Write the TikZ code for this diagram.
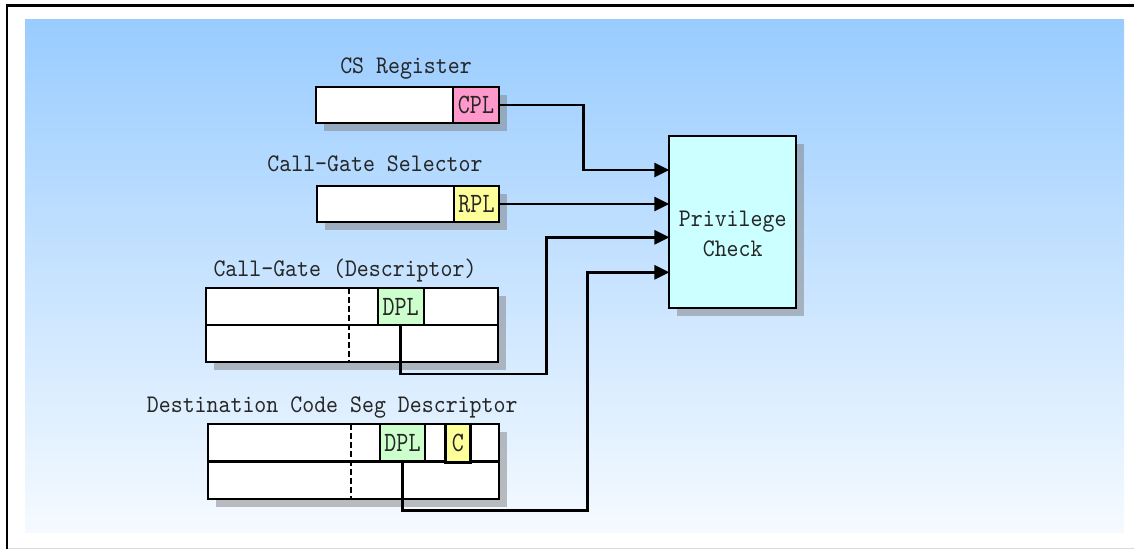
\documentclass[tikz,border=0pt]{standalone}
\usepackage{fontspec}
\usepackage{tikz}
\usetikzlibrary{arrows.meta,positioning,calc,shadows}
\definecolor{bgtop}{HTML}{99CCFF}
\definecolor{bgbot}{HTML}{F5FAFF}
\definecolor{cplpink}{HTML}{FF99CC}
\definecolor{bityellow}{HTML}{FFFF99}
\definecolor{dplgreen}{HTML}{CCFFCC}
\definecolor{chkcyan}{HTML}{CCFFFF}
\newfontfamily\regtt[FakeStretch=0.9]{lmmono10-regular.otf}
\newfontfamily\fieldtt[FakeStretch=0.82]{lmmono10-regular.otf}
\newcommand{\regfont}{\regtt\fontsize{25.3}{29.7}\selectfont}
\newcommand{\fieldfont}{\fieldtt\fontsize{28}{30}\selectfont}

\begin{document}
\begin{tikzpicture}[x=1pt, y=-1pt,
    reg/.style={draw=black, line width=2.2pt, fill=white, inner sep=0pt, outer sep=0pt, drop shadow={shadow xshift=8pt, shadow yshift=-8pt, fill=gray, opacity=.5}},
    field/.style={draw=black, line width=2.2pt, inner sep=0pt, outer sep=0pt, font=\fieldfont, text=black!85},
    lbl/.style={font=\regfont, text=black!85, inner sep=0pt, anchor=base},
    link/.style={-{Triangle[length=15pt,width=14pt]}, line width=2.8pt},
    sep/.style={line width=2.2pt},
    cut/.style={line width=2pt, dash pattern=on 6pt off 3pt}
]
\useasboundingbox (0,0) rectangle (1134,549);
\shade[top color=bgtop, bottom color=bgbot] (25,19) rectangle (1124,532);
\draw[line width=2.5pt] (7,549) -- (7,5.5) -- (1134,5.5);
\draw[black!15, line width=1pt] (8,548) -- (1134,548);

\node[reg, minimum width=183pt, minimum height=36pt] (csreg) at (407.5,105) {};
\node[field, fill=cplpink, minimum width=46pt, minimum height=36pt, anchor=east] (cpl) at (csreg.east) {CPL};
\node[lbl] (cslbl) at (406,73) {CS Register};

\node[reg, minimum width=182pt, minimum height=36pt] (selreg) at (408,204) {};
\node[field, fill=bityellow, minimum width=45pt, minimum height=36pt, anchor=east] (rpl) at (selreg.east) {RPL};
\node[lbl] (sellbl) at (375,171.7) {Call-Gate Selector};

\node[reg, minimum width=292pt, minimum height=74pt] (gate) at (352,325) {};
\draw[sep] (gate.west) -- (gate.east);
\draw[cut] ($(gate.north west)+(143,0)$) -- ($(gate.south west)+(143,0)$);
\node[field, fill=dplgreen, minimum width=46pt, minimum height=37pt, anchor=north west] (gdpl) at ($(gate.north west)+(171.7,0)$) {DPL};
\node[lbl] (gatelbl) at (345,276) {Call-Gate (Descriptor)};

\node[reg, minimum width=291pt, minimum height=75pt] (dest) at (353.5,461.5) {};
\draw[sep] (dest.west) -- (dest.east);
\draw[cut] ($(dest.north west)+(142.5,0)$) -- ($(dest.south west)+(142.5,0)$);
\node[field, fill=dplgreen, minimum width=45pt, minimum height=37.5pt, anchor=north west] (ddpl) at ($(dest.north west)+(172,0)$) {DPL};
\node[field, fill=bityellow, minimum width=25pt, minimum height=38.5pt, anchor=north west] (cbit) at ($(dest.north west)+(237.5,0)$) {C};
\node[lbl] (destlbl) at (332.2,412.3) {Destination Code Seg Descriptor};

\node[reg, fill=chkcyan, minimum width=126.7pt, minimum height=172pt] (chk) at (732.7,221.7) {};
\node[lbl, anchor=center, align=center] (chktxt) at ($(chk.center)+(0,12)$) {Privilege\\Check};

\coordinate (in1) at ($(chk.north west)+(0,34.3)$);
\coordinate (in2) at (chk.west |- rpl.east);
\coordinate (in3) at ($(chk.north west)+(0,101.6)$);
\coordinate (in4) at ($(chk.north west)+(0,136.6)$);

\draw[link] (cpl.east) -- ++(84.6,0) |- (in1);
\draw[link] (rpl.east) -- (in2);
\draw[link] (gdpl.south) -- ++(0,49) -- ++(146,0) |- (in3);
\draw[link] (ddpl.south) -- ++(0,49) -- ++(185,0) |- (in4);
\end{tikzpicture}
\end{document}
